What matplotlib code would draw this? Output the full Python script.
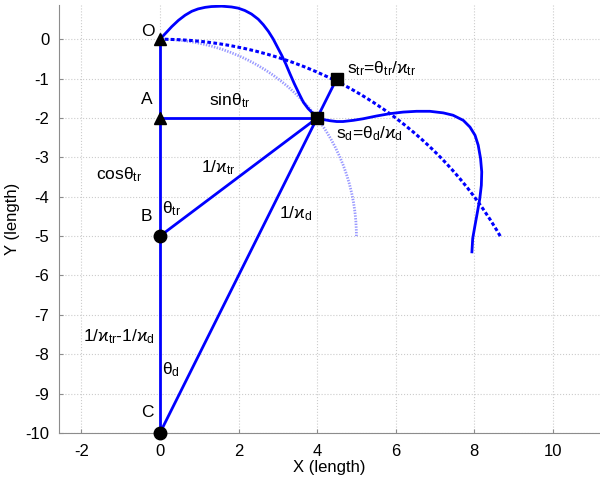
import matplotlib
matplotlib.use('Agg')
import matplotlib.pyplot as plt
from matplotlib.patches import Arc

plt.rcParams['font.family'] = ['Liberation Sans', 'DejaVu Sans']
plt.rcParams['mathtext.fontset'] = 'custom'
plt.rcParams['mathtext.rm'] = 'Liberation Sans'
plt.rcParams['mathtext.it'] = 'Liberation Sans'
plt.rcParams['mathtext.default'] = 'regular'
plt.rcParams['axes.unicode_minus'] = False

# key points of the construction
pt_names = ['O', 'A', 'B', 'C']
pt_x = [0, 0, 0, 0]
pt_y = [0, -2, -5, -10]
p_d = (4, -2)      # end of the curved path
p_tr = (4.5, -1)   # point on the big arc

# radii of the two reference arcs (centred on B and C)
r_tr = 5
r_d = 10

# the wiggly path
path_x = [0, 0.17, 0.30, 0.47, 0.64, 0.81, 0.97, 1.15, 1.31, 1.57, 1.82, 1.99,
          2.16, 2.33, 2.50, 2.63, 2.76, 2.88, 2.99, 3.10, 3.20, 3.31, 3.42, 3.54,
          3.65, 3.77, 3.90, 4.0,
          4.16, 4.33, 4.50, 4.66, 4.92, 5.17, 5.51, 5.85, 6.19, 6.53, 6.87, 7.21,
          7.46, 7.72, 7.89, 8.02, 8.10, 8.16, 8.19, 8.18, 8.14, 8.08, 8.02, 7.96, 7.94]
path_y = [0, 0.18, 0.32, 0.48, 0.61, 0.71, 0.77, 0.81, 0.83, 0.84, 0.82, 0.79,
          0.73, 0.64, 0.51, 0.37, 0.20, 0.01, -0.20, -0.41, -0.62, -0.88, -1.13, -1.38,
          -1.60, -1.76, -1.89, -1.99,
          -2.04, -2.07, -2.09, -2.09, -2.06, -2.02, -1.95, -1.89, -1.85, -1.83, -1.83, -1.87,
          -1.93, -2.06, -2.23, -2.44, -2.69, -3.03, -3.37, -3.71, -4.05, -4.39, -4.72, -5.06, -5.40]

labels = [
    ('O', -0.48, 0.2), ('A', -0.48, -1.53), ('B', -0.48, -4.51), ('C', -0.48, -9.48),
    (r'$\mathrm{sin}\theta_{tr}$', 1.25, -1.55),
    (r'$\mathrm{cos}\theta_{tr}$', -1.63, -3.43),
    (r'$1/\varkappa_{tr}$', 1.04, -3.25),
    (r'$\theta_{tr}$', 0.05, -4.29),
    (r'$1/\varkappa_{d}$', 3.03, -4.44),
    (r'$1/\varkappa_{tr}$-$1/\varkappa_{d}$', -1.96, -7.55),
    (r'$\theta_{d}$', 0.05, -8.39),
    (r'$s_{tr}$=$\theta_{tr}/\varkappa_{tr}$', 4.76, -0.74),
    (r'$s_{d}$=$\theta_{d}/\varkappa_{d}$', 4.48, -2.41),
]

fig = plt.figure(figsize=(6, 4.84), dpi=100)
ax = fig.add_axes([0.0983, 0.1054, 0.9017, 0.8843])

blue = (0, 0, 1)

# reference arcs
ax.add_patch(Arc((pt_x[2], pt_y[2]), 2 * r_tr, 2 * r_tr, theta1=0, theta2=90,
                 color=(0.6, 0.6, 1), lw=2, ls=(0, (0.5, 0.5))))
ax.add_patch(Arc((pt_x[3], pt_y[3]), 2 * r_d, 2 * r_d, theta1=30, theta2=90,
                 color=blue, lw=2.2, ls=(0, (1.2, 0.8))))

# construction lines
ax.plot(pt_x, pt_y, color=blue, lw=2)
for i in [1, 2, 3]:
    ax.plot([pt_x[i], p_d[0]], [pt_y[i], p_d[1]], color=blue, lw=2)
ax.plot([p_d[0], p_tr[0]], [p_d[1], p_tr[1]], color=blue, lw=2)

# the path
ax.plot(path_x, path_y, color=blue, lw=2, solid_joinstyle='round')

# markers
ax.plot(pt_x[:2], pt_y[:2], '^', color='k', ms=9, clip_on=False)
ax.plot(pt_x[2:], pt_y[2:], 'o', color='k', ms=9, clip_on=False, zorder=5)
ax.plot([p_d[0], p_tr[0]], [p_d[1], p_tr[1]], 's', color='k', ms=8)

for txt, x, y in labels:
    ax.text(x, y, txt, ha='left', va='center', fontsize=12.5)

ax.set_xlim(-2.57, 11.2)
ax.set_ylim(-10, 0.87)
ax.set_xticks([-2, 0, 2, 4, 6, 8, 10])
ax.set_yticks(list(range(-10, 1)))
ax.grid(True, ls=':', color=(0.8, 0.8, 0.8), lw=0.8)
ax.set_axisbelow(True)
for s in ['top', 'right']:
    ax.spines[s].set_visible(False)
for s in ['left', 'bottom']:
    ax.spines[s].set_color((0.55, 0.55, 0.55))
ax.tick_params(direction='in', length=3, color=(0.55, 0.55, 0.55), labelsize=12)
ax.tick_params(axis='x', pad=8)
ax.tick_params(axis='y', pad=7)
ax.set_xlabel('X (length)', fontsize=12, labelpad=1)
ax.set_ylabel('Y (length)', fontsize=12, labelpad=4)

fig.savefig('out.png', dpi=100)
